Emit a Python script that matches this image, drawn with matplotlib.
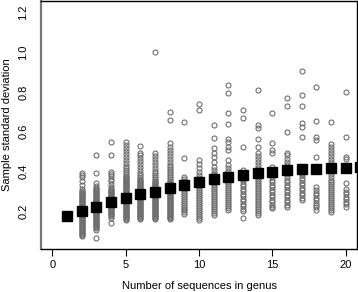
import matplotlib
matplotlib.use("Agg")
import matplotlib.pyplot as plt

plt.rcParams['font.family'] = ['Liberation Sans', 'DejaVu Sans']

# Sample standard deviations per genus size (x = number of sequences)
sd_n2 = [0.075, 0.08, 0.085, 0.09, 0.095, 0.10, 0.105, 0.11, 0.115, 0.12, 0.125, 0.13, 0.135,
         0.14, 0.145, 0.15, 0.155, 0.16, 0.165, 0.17, 0.175, 0.18, 0.185, 0.19, 0.195, 0.20,
         0.205, 0.21, 0.215, 0.22, 0.225, 0.23, 0.235, 0.24, 0.245, 0.25, 0.255, 0.26, 0.265,
         0.27, 0.275, 0.28, 0.285, 0.29, 0.295, 0.30, 0.31, 0.33, 0.35, 0.37, 0.38, 0.39]
sd_n3 = [0.063, 0.105, 0.115, 0.12, 0.125, 0.13, 0.135, 0.14, 0.145, 0.15, 0.155, 0.16, 0.165,
         0.17, 0.175, 0.18, 0.185, 0.19, 0.195, 0.20, 0.205, 0.21, 0.215, 0.22, 0.225, 0.23,
         0.235, 0.24, 0.245, 0.25, 0.255, 0.26, 0.265, 0.27, 0.275, 0.28, 0.285, 0.29, 0.295,
         0.30, 0.305, 0.31, 0.315, 0.325, 0.34, 0.389, 0.481]
sd_n4 = [0.138, 0.165, 0.175, 0.18, 0.185, 0.19, 0.195, 0.20, 0.205, 0.21, 0.215, 0.22, 0.225,
         0.23, 0.235, 0.24, 0.245, 0.25, 0.255, 0.26, 0.265, 0.27, 0.275, 0.28, 0.285, 0.29,
         0.295, 0.30, 0.305, 0.31, 0.32, 0.335, 0.35, 0.36, 0.375, 0.385, 0.397, 0.48, 0.548]
sd_n5 = [0.155, 0.16, 0.165, 0.17, 0.175, 0.18, 0.185, 0.19, 0.195, 0.20, 0.205, 0.21, 0.215,
         0.22, 0.225, 0.23, 0.235, 0.24, 0.245, 0.25, 0.255, 0.26, 0.265, 0.27, 0.275, 0.28,
         0.285, 0.29, 0.295, 0.30, 0.305, 0.31, 0.315, 0.32, 0.325, 0.33, 0.335, 0.34, 0.345,
         0.35, 0.355, 0.36, 0.365, 0.37, 0.375, 0.385, 0.395, 0.405, 0.415, 0.425, 0.44, 0.455,
         0.47, 0.485, 0.50, 0.515, 0.53, 0.548]
sd_n6 = [0.158, 0.165, 0.17, 0.175, 0.18, 0.185, 0.19, 0.195, 0.20, 0.205, 0.21, 0.215, 0.22,
         0.225, 0.23, 0.235, 0.24, 0.245, 0.25, 0.255, 0.26, 0.265, 0.27, 0.275, 0.28, 0.285,
         0.29, 0.295, 0.30, 0.305, 0.31, 0.315, 0.32, 0.325, 0.33, 0.335, 0.34, 0.345, 0.35,
         0.355, 0.36, 0.37, 0.38, 0.39, 0.405, 0.42, 0.435, 0.45, 0.465, 0.48, 0.49, 0.527]
sd_n7 = [0.158, 0.165, 0.17, 0.175, 0.18, 0.185, 0.19, 0.195, 0.20, 0.205, 0.21, 0.215, 0.22,
         0.225, 0.23, 0.235, 0.24, 0.245, 0.25, 0.255, 0.26, 0.265, 0.27, 0.275, 0.28, 0.285,
         0.29, 0.295, 0.30, 0.305, 0.31, 0.315, 0.32, 0.325, 0.33, 0.335, 0.34, 0.345, 0.35,
         0.36, 0.37, 0.38, 0.39, 0.40, 0.415, 0.43, 0.445, 0.46, 0.475, 0.49, 1.0]
sd_n8 = [0.158, 0.165, 0.17, 0.175, 0.18, 0.185, 0.19, 0.195, 0.20, 0.205, 0.21, 0.215, 0.22,
         0.225, 0.23, 0.235, 0.24, 0.245, 0.25, 0.255, 0.26, 0.265, 0.27, 0.275, 0.28, 0.285,
         0.29, 0.295, 0.30, 0.305, 0.31, 0.315, 0.32, 0.325, 0.33, 0.335, 0.34, 0.345, 0.35,
         0.36, 0.37, 0.38, 0.39, 0.40, 0.41, 0.42, 0.43, 0.445, 0.46, 0.475, 0.49, 0.505, 0.52,
         0.54, 0.66, 0.70]
sd_n9 = [0.185, 0.195, 0.205, 0.212, 0.22, 0.23, 0.24, 0.25, 0.26, 0.27, 0.28, 0.29, 0.30,
         0.31, 0.32, 0.33, 0.34, 0.35, 0.36, 0.37, 0.465, 0.65]
sd_n10 = [0.155, 0.165, 0.175, 0.185, 0.195, 0.205, 0.215, 0.225, 0.235, 0.245, 0.255, 0.265,
          0.275, 0.285, 0.295, 0.305, 0.315, 0.325, 0.335, 0.345, 0.355, 0.365, 0.38, 0.395,
          0.415, 0.436, 0.456, 0.711, 0.741]
sd_n11 = [0.18, 0.19, 0.20, 0.21, 0.22, 0.23, 0.24, 0.25, 0.26, 0.27, 0.28, 0.29, 0.30, 0.31,
          0.32, 0.33, 0.34, 0.35, 0.36, 0.37, 0.38, 0.39, 0.405, 0.423, 0.445, 0.473, 0.49,
          0.515, 0.568, 0.632]
sd_n12 = [0.205, 0.215, 0.225, 0.235, 0.245, 0.255, 0.265, 0.275, 0.285, 0.295, 0.305, 0.315,
          0.325, 0.335, 0.345, 0.355, 0.37, 0.385, 0.40, 0.415, 0.43, 0.456, 0.506, 0.523,
          0.548, 0.565, 0.636, 0.694, 0.795, 0.833]
sd_n13 = [0.166, 0.20, 0.212, 0.225, 0.237, 0.25, 0.262, 0.275, 0.287, 0.30, 0.312, 0.325,
          0.337, 0.35, 0.362, 0.375, 0.39, 0.406, 0.523, 0.669, 0.707]
sd_n14 = [0.18, 0.188, 0.198, 0.21, 0.22, 0.23, 0.24, 0.25, 0.26, 0.27, 0.28, 0.29, 0.30,
          0.31, 0.32, 0.33, 0.34, 0.35, 0.36, 0.37, 0.38, 0.39, 0.40, 0.415, 0.43, 0.445, 0.46,
          0.475, 0.49, 0.52, 0.565, 0.616, 0.632, 0.81]
sd_n15 = [0.215, 0.222, 0.232, 0.245, 0.257, 0.27, 0.282, 0.295, 0.307, 0.32, 0.332, 0.345,
          0.357, 0.37, 0.385, 0.40, 0.423, 0.49, 0.507, 0.54, 0.694]
sd_n16 = [0.222, 0.232, 0.245, 0.257, 0.27, 0.282, 0.295, 0.307, 0.32, 0.332, 0.345, 0.357,
          0.37, 0.385, 0.40, 0.415, 0.43, 0.445, 0.46, 0.48, 0.49, 0.60, 0.729, 0.771]
sd_n17 = [0.255, 0.267, 0.28, 0.292, 0.305, 0.317, 0.33, 0.342, 0.355, 0.367, 0.38, 0.392,
          0.405, 0.423, 0.573, 0.624, 0.641, 0.729, 0.783, 0.904]
sd_n18 = [0.205, 0.218, 0.23, 0.243, 0.255, 0.268, 0.28, 0.293, 0.305, 0.322, 0.473, 0.56,
          0.573, 0.652, 0.825]
sd_n19 = [0.197, 0.207, 0.217, 0.227, 0.237, 0.247, 0.257, 0.267, 0.277, 0.287, 0.297, 0.307,
          0.317, 0.327, 0.337, 0.347, 0.357, 0.37, 0.385, 0.40, 0.415, 0.43, 0.445, 0.46,
          0.475, 0.49, 0.505, 0.52, 0.535, 0.649]
sd_n20 = [0.222, 0.235, 0.247, 0.26, 0.272, 0.285, 0.297, 0.31, 0.34, 0.46, 0.473, 0.573, 0.797]

group_sizes = list(range(2, 21))
group_values = [sd_n2, sd_n3, sd_n4, sd_n5, sd_n6, sd_n7, sd_n8, sd_n9, sd_n10, sd_n11,
                sd_n12, sd_n13, sd_n14, sd_n15, sd_n16, sd_n17, sd_n18, sd_n19, sd_n20]

mean_x = list(range(1, 22))
mean_sd = [0.175, 0.200, 0.222, 0.244, 0.264, 0.284, 0.297, 0.317, 0.331, 0.346, 0.359,
           0.372, 0.381, 0.389, 0.397, 0.406, 0.410, 0.414, 0.418, 0.418, 0.420]

x_ticks = [0, 5, 10, 15, 20]
y_ticks = [0.2, 0.4, 0.6, 0.8, 1.0, 1.2]

fig = plt.figure(figsize=(3.58, 2.92), dpi=100)
ax = fig.add_axes([41 / 358, 43 / 292, 316 / 358, 248 / 292])

for n, vals in zip(group_sizes, group_values):
    ax.plot([n] * len(vals), vals, linestyle='none', marker='o', markersize=3.6,
            markerfacecolor='none', markeredgecolor='#6e6e6e', markeredgewidth=0.8,
            clip_on=True, zorder=2)

ax.plot(mean_x, mean_sd, linestyle='none', marker='s', markersize=7.8,
        color='black', zorder=3, clip_on=True)

ax.set_xlim(-0.77, 20.77)
ax.set_ylim(0.009, 1.257)
ax.set_xticks(x_ticks)
ax.set_xticklabels([str(t) for t in x_ticks])
ax.set_yticks(y_ticks)
ax.set_yticklabels([f"{t:.1f}" for t in y_ticks], rotation=90, va='center')

ax.tick_params(axis='x', direction='out', length=5, width=0.8, labelsize=8, pad=3)
ax.tick_params(axis='y', direction='out', length=0, labelsize=8, pad=9)

for s in ['top', 'right', 'bottom']:
    ax.spines[s].set_color('black')
    ax.spines[s].set_linewidth(1.0)
ax.spines['left'].set_color('#777777')
ax.spines['left'].set_linewidth(1.6)

ax.set_xlabel('Number of sequences in genus', fontsize=8, va='center')
ax.xaxis.set_label_coords(0.5, -0.148)
ax.set_ylabel('Sample standard deviation', fontsize=8, va='center')
ax.yaxis.set_label_coords(-0.108, 0.5)

fig.savefig('out.png', dpi=100)
